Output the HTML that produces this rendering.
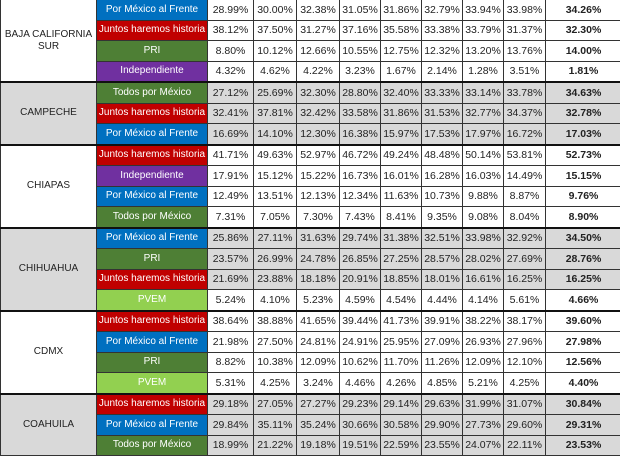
<!DOCTYPE html>
<html><head><meta charset="utf-8"><style>
body{margin:0;width:620px;height:457px;overflow:hidden;background:#fff;font-family:"Liberation Sans",Arial,sans-serif;font-size:10.5px;color:#222}
table{position:absolute;left:0;top:-1px;border-collapse:collapse;table-layout:fixed;width:621px}
td{border:1px solid #333;height:19.5px;padding:0;text-align:center;white-space:nowrap;overflow:hidden;line-height:12px}
td.s{text-align:center;font-size:10px}
td:last-child{font-weight:bold}
.b,.r,.g,.p,.l{font-size:10px;color:#fff}
.b{background:#0070c0}.r{background:#c00000}.g{background:#4e7f35}.p{background:#7030a0}.l{background:#92d050}
tr.gr td{background-color:#d9d9d9}
tr.gr td.b{background:#0070c0}tr.gr td.r{background:#c00000}tr.gr td.g{background:#4e7f35}tr.gr td.p{background:#7030a0}tr.gr td.l{background:#92d050}
tr.t td{border-top:2px solid #111}
.n{font-size:10px}
</style></head><body>
<table>
<colgroup><col style="width:96px"><col style="width:111px"><col style="width:46px"><col style="width:43px"><col style="width:43px"><col style="width:41px"><col style="width:41px"><col style="width:41px"><col style="width:41px"><col style="width:42px"><col style="width:76px"></colgroup>
<tr><td rowspan="4" class="s">BAJA CALIFORNIA<br>SUR</td><td class="b">Por México al Frente</td><td>28.99%</td><td>30.00%</td><td>32.38%</td><td>31.05%</td><td>31.86%</td><td>32.79%</td><td>33.94%</td><td>33.98%</td><td>34.26%</td></tr>
<tr><td class="r">Juntos haremos historia</td><td>38.12%</td><td>37.50%</td><td>31.27%</td><td>37.16%</td><td>35.58%</td><td>33.38%</td><td>33.79%</td><td>31.37%</td><td>32.30%</td></tr>
<tr><td class="g">PRI</td><td>8.80%</td><td>10.12%</td><td>12.66%</td><td>10.55%</td><td>12.75%</td><td>12.32%</td><td>13.20%</td><td>13.76%</td><td>14.00%</td></tr>
<tr><td class="p">Independiente</td><td>4.32%</td><td>4.62%</td><td>4.22%</td><td>3.23%</td><td>1.67%</td><td>2.14%</td><td>1.28%</td><td>3.51%</td><td>1.81%</td></tr>
<tr class="gr t"><td rowspan="3" class="s" style="background:#d9d9d9">CAMPECHE</td><td class="g">Todos por México</td><td>27.12%</td><td>25.69%</td><td>32.30%</td><td>28.80%</td><td>32.40%</td><td>33.33%</td><td>33.14%</td><td>33.78%</td><td>34.63%</td></tr>
<tr class="gr"><td class="r">Juntos haremos historia</td><td>32.41%</td><td>37.81%</td><td>32.42%</td><td>33.58%</td><td>31.86%</td><td>31.53%</td><td>32.77%</td><td>34.37%</td><td>32.78%</td></tr>
<tr class="gr"><td class="b">Por México al Frente</td><td>16.69%</td><td>14.10%</td><td>12.30%</td><td>16.38%</td><td>15.97%</td><td>17.53%</td><td>17.97%</td><td>16.72%</td><td>17.03%</td></tr>
<tr class="t"><td rowspan="4" class="s">CHIAPAS</td><td class="r">Juntos haremos historia</td><td>41.71%</td><td>49.63%</td><td>52.97%</td><td>46.72%</td><td>49.24%</td><td>48.48%</td><td>50.14%</td><td>53.81%</td><td>52.73%</td></tr>
<tr><td class="p">Independiente</td><td>17.91%</td><td>15.12%</td><td>15.22%</td><td>16.73%</td><td>16.01%</td><td>16.28%</td><td>16.03%</td><td>14.49%</td><td>15.15%</td></tr>
<tr><td class="b">Por México al Frente</td><td>12.49%</td><td>13.51%</td><td>12.13%</td><td>12.34%</td><td>11.63%</td><td>10.73%</td><td>9.88%</td><td>8.87%</td><td>9.76%</td></tr>
<tr><td class="g">Todos por México</td><td>7.31%</td><td>7.05%</td><td>7.30%</td><td>7.43%</td><td>8.41%</td><td>9.35%</td><td>9.08%</td><td>8.04%</td><td>8.90%</td></tr>
<tr class="gr t"><td rowspan="4" class="s" style="background:#d9d9d9">CHIHUAHUA</td><td class="b">Por México al Frente</td><td>25.86%</td><td>27.11%</td><td>31.63%</td><td>29.74%</td><td>31.38%</td><td>32.51%</td><td>33.98%</td><td>32.92%</td><td>34.50%</td></tr>
<tr class="gr"><td class="g">PRI</td><td>23.57%</td><td>26.99%</td><td>24.78%</td><td>26.85%</td><td>27.25%</td><td>28.57%</td><td>28.02%</td><td>27.69%</td><td>28.76%</td></tr>
<tr class="gr"><td class="r">Juntos haremos historia</td><td>21.69%</td><td>23.88%</td><td>18.18%</td><td>20.91%</td><td>18.85%</td><td>18.01%</td><td>16.61%</td><td>16.25%</td><td>16.25%</td></tr>
<tr class="gr"><td class="l">PVEM</td><td style="background:#fff">5.24%</td><td style="background:#fff">4.10%</td><td style="background:#fff">5.23%</td><td style="background:#fff">4.59%</td><td style="background:#fff">4.54%</td><td style="background:#fff">4.44%</td><td style="background:#fff">4.14%</td><td style="background:#fff">5.61%</td><td style="background:#fff">4.66%</td></tr>
<tr class="t"><td rowspan="4" class="s">CDMX</td><td class="r">Juntos haremos historia</td><td>38.64%</td><td>38.88%</td><td>41.65%</td><td>39.44%</td><td>41.73%</td><td>39.91%</td><td>38.22%</td><td>38.17%</td><td>39.60%</td></tr>
<tr><td class="b">Por México al Frente</td><td>21.98%</td><td>27.50%</td><td>24.81%</td><td>24.91%</td><td>25.95%</td><td>27.09%</td><td>26.93%</td><td>27.96%</td><td>27.98%</td></tr>
<tr><td class="g">PRI</td><td>8.82%</td><td>10.38%</td><td>12.09%</td><td>10.62%</td><td>11.70%</td><td>11.26%</td><td>12.09%</td><td>12.10%</td><td>12.56%</td></tr>
<tr><td class="l">PVEM</td><td>5.31%</td><td>4.25%</td><td>3.24%</td><td>4.46%</td><td>4.26%</td><td>4.85%</td><td>5.21%</td><td>4.25%</td><td>4.40%</td></tr>
<tr class="gr t"><td rowspan="3" class="s" style="background:#d9d9d9">COAHUILA</td><td class="r">Juntos haremos historia</td><td>29.18%</td><td>27.05%</td><td>27.27%</td><td>29.23%</td><td>29.14%</td><td>29.63%</td><td>31.99%</td><td>31.07%</td><td>30.84%</td></tr>
<tr class="gr"><td class="b">Por México al Frente</td><td>29.84%</td><td>35.11%</td><td>35.24%</td><td>30.66%</td><td>30.58%</td><td>29.90%</td><td>27.73%</td><td>29.60%</td><td>29.31%</td></tr>
<tr class="gr"><td class="g">Todos por México</td><td>18.99%</td><td>21.22%</td><td>19.18%</td><td>19.51%</td><td>22.59%</td><td>23.55%</td><td>24.07%</td><td>22.11%</td><td>23.53%</td></tr>
</table>
</body></html>
